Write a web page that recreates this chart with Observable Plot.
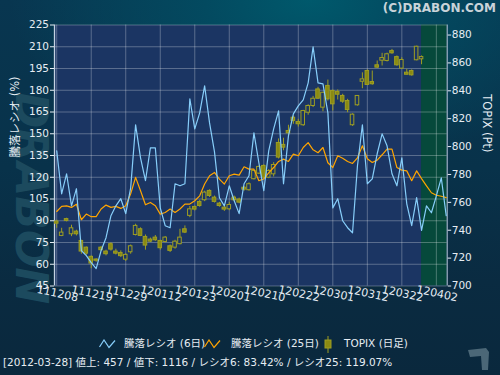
<!DOCTYPE html>
<html><head><meta charset="utf-8">
<script src="https://cdn.jsdelivr.net/npm/d3@7"></script>
<script src="https://cdn.jsdelivr.net/npm/@observablehq/plot@0.6"></script>
<style>
html,body{margin:0;padding:0;}
body{width:500px;height:375px;overflow:hidden;position:relative;
font-family:"DejaVu Sans","Noto Sans CJK JP",sans-serif;color:#e6edf3;
background:radial-gradient(ellipse 60% 45% at 62% 0%, #00596c 0%, #034a60 35%, rgba(6,56,80,0) 100%),
linear-gradient(180deg,#083650 0%,#08324a 45%,#0a2b41 75%,#0a283d 100%);}
#wm{position:absolute;left:31px;top:198px;transform:translate(-50%,-50%) rotate(90deg);
font:italic bold 44px "DejaVu Sans",sans-serif;color:#1c4a5e;white-space:nowrap;}
#chart{position:absolute;left:0;top:0;}
#copy{position:absolute;right:4px;top:1px;font:bold 12px "DejaVu Sans",sans-serif;color:#c9d3d9;}
.lg{position:absolute;font-size:10.5px;line-height:14px;white-space:nowrap;color:#e6edf3;}
#footer{position:absolute;left:3px;top:355px;font-size:10.5px;line-height:14px;white-space:nowrap;color:#e6edf3;}
</style></head>
<body>
<div id="wm">DRABON</div>
<div id="chart"></div>
<div id="copy">(C)DRABON.COM</div>
<svg class="lg" style="left:99px;top:339px" width="18" height="10"><polyline points="0.5,8 5,1 10,8.5 16,1.5" fill="none" stroke="#87cefa" stroke-width="1.2"/></svg>
<div class="lg" id="lg1" style="left:124px;top:336px"></div>
<svg class="lg" style="left:204px;top:339px" width="18" height="10"><polyline points="0.5,8 5,1 10,8.5 16,1.5" fill="none" stroke="#ffa500" stroke-width="1.2"/></svg>
<div class="lg" id="lg2" style="left:231px;top:336px"></div>
<svg class="lg" style="left:322px;top:335px" width="12" height="19"><line x1="6" y1="1" x2="6" y2="18" stroke="#9e9e22"/><rect x="3" y="5" width="6" height="8" fill="#8a8a12" stroke="#9e9e22"/></svg>
<div class="lg" id="lg3" style="left:344px;top:336px"></div>
<div id="footer"></div>
<svg style="position:absolute;left:466px;top:346px" width="28" height="26"><polygon points="2,4 20,2 23,6 22,24 16,24 15,10 4,11" fill="#4b6777"/></svg>
<script>
// ---- data ----
const xTickIndex = [0,7,14,21,28,35,42,49,56,63,70,77];
const xTickLabels = ["111208","111219","111229","120112","120123","120201","120210","120222","120301","120312","120322","120402"];
const leftTicks = [45,60,75,90,105,120,135,150,165,180,195,210,225];
const topixTicks = [700,720,740,760,780,800,820,840,860,880];

const ratio6 = [138.2,108.6,122.4,100.3,112.1,69.4,65.9,61.1,57.0,69.4,
78.3,93.5,100.3,105.2,94.9,112.7,156.1,133.4,117.6,140.3,
140.3,98.9,86.6,85.2,115.5,114.1,115.5,174.0,153.4,164.4,
183.0,157.5,137.5,105.9,100.3,114.1,103.8,94.9,115.5,121.0,
150.6,130.0,110.7,138.2,153.4,165.8,115.5,148.5,163.7,169.2,
173.4,185.1,209.9,185.1,184.4,164.4,98.9,105.2,90.0,85.2,
81.7,127.9,156.1,115.5,118.9,136.2,149.9,141.7,122.4,114.1,
133.4,101.7,86.6,105.9,83.42,100.3,95.5,107.2,119.6,93.5];

const ratio25 = [96.4,99.9,100.3,99.2,101.4,90.7,94.6,92.8,92.8,98.1,
100.8,99.2,99.9,98.5,100.3,108.6,119.9,110.7,101.0,102.6,
100.3,94.6,95.7,98.1,95.7,98.1,101.5,101.5,103.8,107.2,
115.3,121.0,123.3,118.7,115.3,121.0,122.2,121.5,127.2,125.6,
125.6,117.6,118.9,123.1,126.7,130.9,132.5,130.9,135.9,134.8,
140.5,143.9,138.9,136.9,140.5,130.0,126.7,134.8,133.1,130.9,
129.5,133.4,141.7,132.7,130.2,131.8,135.5,139.4,139.4,126.7,
124.9,124.4,117.6,124.4,119.07,114.1,109.3,107.6,106.9,105.9];

const topixOpen = [746.2,735.9,748.0,737.1,739.0,732.3,727.5,720.9,719.0,727.5,
724.7,730.0,724.7,723.7,718.9,724.2,736.6,740.7,735.2,733.3,
734.7,732.3,731.6,728.5,727.5,730.0,740.7,750.3,756.7,760.3,
761.5,768.2,763.4,759.1,756.2,755.0,763.4,762.0,770.5,768.7,
776.6,780.6,786.1,777.7,780.1,802.6,801.2,811.2,820.7,817.6,
815.3,824.3,829.1,841.0,827.9,843.5,839.9,839.2,836.3,832.7,
815.3,829.6,846.5,854.2,846.3,858.3,861.6,861.4,868.5,864.2,
855.9,853.0,854.2,861.9,862.6];
const topixHigh = [747.2,741.4,748.6,743.6,740.0,732.8,728.0,721.6,719.5,728.4,
725.7,731.0,726.4,725.2,723.2,729.4,744.3,741.7,736.6,734.4,
736.2,732.8,735.5,729.4,732.8,740.7,743.1,757.0,757.4,761.5,
768.0,769.0,764.5,760.0,757.5,760.0,764.5,763.0,771.5,774.0,
783.0,786.0,787.0,783.5,788.5,805.5,806.0,815.3,822.0,819.5,
826.0,830.0,836.0,842.5,839.0,847.7,840.5,840.6,837.5,833.9,
823.5,836.5,852.9,855.0,854.2,861.4,866.9,867.0,869.7,865.0,
863.7,855.4,855.0,872.0,865.0];
const topixLow = [741.4,735.4,746.0,735.4,735.9,722.8,722.0,712.4,717.0,724.7,
721.6,725.0,722.3,720.4,717.6,722.8,735.9,735.4,725.7,731.1,
732.0,725.7,730.9,724.0,726.4,729.5,737.6,749.0,753.8,756.5,
760.5,763.5,759.5,756.5,753.5,754.0,760.5,759.0,768.0,768.0,
776.0,780.0,777.0,777.0,778.2,791.1,797.0,807.6,816.0,814.0,
814.5,822.5,828.0,834.0,825.0,832.7,825.5,833.4,831.0,824.3,
814.5,829.0,841.5,844.0,844.0,856.0,857.8,860.7,866.2,857.6,
855.4,851.5,850.5,861.5,858.7];
const topixClose = [744.7,738.3,746.7,741.4,737.1,724.7,723.2,716.1,718.1,725.7,
722.8,726.1,723.2,721.4,722.3,728.5,743.1,735.9,729.0,731.8,
732.8,727.1,734.7,725.2,731.8,734.7,738.3,755.0,754.8,757.4,
767.0,764.6,760.3,757.4,754.8,758.1,761.5,759.8,769.1,773.0,
782.5,785.4,777.7,782.5,786.8,792.1,799.2,809.5,818.4,816.0,
825.5,829.1,834.3,834.3,838.6,833.9,830.3,837.2,832.2,826.2,
822.9,836.3,848.2,844.2,844.7,856.6,863.5,866.2,866.9,858.3,
862.1,851.5,851.1,871.6,864.2];

const selectedIndex = 74;          // 2012-03-28
const selectedDate = "2012-03-28";
const advances = 457, declines = 1116;
const ratio6Now = "83.42", ratio25Now = "119.07";

const legendLabels = ["騰落レシオ (6日)", "騰落レシオ (25日)", "TOPIX (日足)"];
const leftTitle = "騰落レシオ (%)", rightTitle = "TOPIX (Pt)";

// ---- scales / helpers ----
const yDomain = [45, 225];
const topixDomain = [700, 887.2];
const xDomain = [-0.45, 79.2];
const toLeft = t => yDomain[0] + (t - topixDomain[0]) * (yDomain[1]-yDomain[0]) / (topixDomain[1]-topixDomain[0]);
const fromLeft = v => topixDomain[0] + (v - yDomain[0]) * (topixDomain[1]-topixDomain[0]) / (yDomain[1]-yDomain[0]);

const candles = topixOpen.map((o, i) => ({i, open: o, high: topixHigh[i], low: topixLow[i], close: topixClose[i]}));
const r6 = ratio6.map((v, i) => ({i, v}));
const r25 = ratio25.map((v, i) => ({i, v}));
const xticks = xTickIndex.map((i, k) => ({i, label: xTickLabels[k]}));

const plotBg = "#1b3563";
const olive = "#8a8a12", oliveStroke = "#9e9e22";

const chart = Plot.plot({
  width: 500, height: 310,
  marginLeft: 54, marginRight: 53.3, marginTop: 24.5, marginBottom: 24.5,
  x: {domain: xDomain, axis: null},
  y: {domain: yDomain, axis: null},
  style: {background: "transparent", color: "#e6edf3", fontFamily: "DejaVu Sans, Noto Sans CJK JP, sans-serif", fontSize: "10.5px", overflow: "visible"},
  marks: [
    Plot.frame({fill: plotBg, stroke: null}),
    Plot.rect([{x1: selectedIndex, x2: xDomain[1]}], {x1: "x1", x2: "x2", y1: yDomain[0], y2: yDomain[1], fill: "#06493b"}),
    Plot.gridY(leftTicks, {stroke: "#ffffff", strokeOpacity: 0.28}),
    Plot.gridX(xTickIndex, {stroke: "#ffffff", strokeOpacity: 0.28}),
    Plot.ruleX([xDomain[0]], {stroke: "#c4d2e2", strokeWidth: 1.3}),
    Plot.ruleX([xDomain[1]], {stroke: "#b8c8d8", strokeWidth: 1}),
    // candles
    Plot.ruleX(candles, {x: "i", y1: d => toLeft(d.low), y2: d => toLeft(d.high), stroke: oliveStroke, strokeWidth: 1}),
    Plot.rect(candles, {x1: d => d.i - 0.36, x2: d => d.i + 0.36,
      y1: d => toLeft(Math.min(d.open, d.close)), y2: d => toLeft(Math.max(d.open, d.close)),
      fill: d => d.close < d.open ? olive : plotBg, stroke: oliveStroke, strokeWidth: 1}),
    Plot.line(r25, {x: "i", y: "v", stroke: "#ffa500", strokeWidth: 1.2}),
    Plot.line(r6, {x: "i", y: "v", stroke: "#87cefa", strokeWidth: 1.2}),
    // axes
    Plot.axisY(leftTicks, {anchor: "left", tickSize: 4, tickPadding: 1.5, label: null}),
    Plot.axisY(topixTicks.map(toLeft), {anchor: "right", tickSize: 3.5, tickPadding: 1, label: null,
      tickFormat: d => String(Math.round(fromLeft(d)))}),
    Plot.text(xticks, {x: "i", text: "label", frameAnchor: "bottom", dy: 11, rotate: 12, textAnchor: "middle", fill: "#e6edf3", fontSize: 11}),
    Plot.text([leftTitle], {frameAnchor: "left", dx: -39, dy: 2, rotate: -90, fill: "#e6edf3", fontSize: 11.5}),
    Plot.text([rightTitle], {frameAnchor: "right", dx: 39, dy: -3, rotate: 90, fill: "#e6edf3", fontSize: 11.5})
  ]
});
document.getElementById("chart").appendChild(chart);

document.getElementById("lg1").textContent = legendLabels[0];
document.getElementById("lg2").textContent = legendLabels[1];
document.getElementById("lg3").textContent = legendLabels[2];
document.getElementById("footer").textContent =
  `[${selectedDate}]  値上: ${advances} / 値下: ${declines} / レシオ6: ${ratio6Now}% / レシオ25: ${ratio25Now}%`;
</script>
</body></html>
